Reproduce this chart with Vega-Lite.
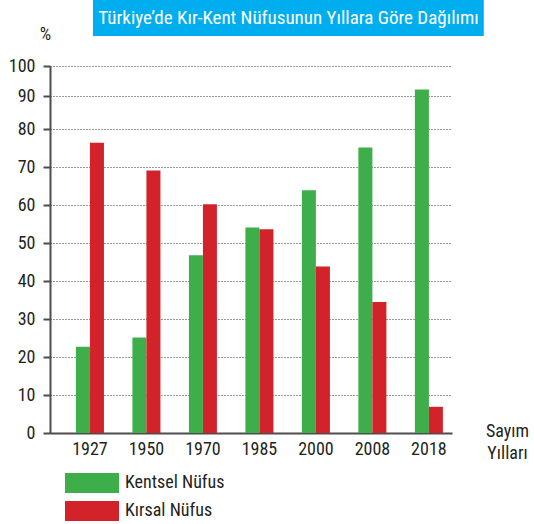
{
  "$schema": "https://vega.github.io/schema/vega-lite/v6.json",
  "width": 402,
  "height": 367,
  "autosize": {"type": "none"},
  "padding": {"left": 50, "top": 66, "right": 82, "bottom": 91},
  "background": "white",
  "config": {
    "view": {"stroke": null},
    "font": "Liberation Sans Narrow, Arial Narrow, Roboto Condensed, Liberation Sans",
    "axis": {
      "labelFontSize": 18,
      "labelColor": "#231F20",
      "titleFontSize": 18,
      "titleFontWeight": "normal",
      "titleColor": "#231F20",
      "domainColor": "#4D4D4D",
      "domainWidth": 2,
      "domainOpacity": 1,
      "tickOpacity": 1,
      "zindex": 2
    },
    "axisX": {
      "labelAngle": 0,
      "ticks": false,
      "labelPadding": 7,
      "grid": false,
      "titleX": 457,
      "titleY": 3,
      "titleAlign": "center",
      "titleBaseline": "alphabetic",
      "titleLineHeight": 22
    },
    "axisY": {
      "titleAngle": 0,
      "titleX": -5,
      "titleY": -32,
      "titleAlign": "center",
      "titleBaseline": "middle",
      "labelPadding": 8,
      "tickSize": 7,
      "tickWidth": 2,
      "tickColor": "#4D4D4D",
      "grid": true,
      "gridColor": "#333333",
      "gridDash": [1, 2],
      "gridWidth": 1,
      "labelOverlap": false
    }
  },
  "datasets": {
    "bars": [
      {"year": "1927", "type": "Kentsel Nüfus", "value": 22.7},
      {"year": "1927", "type": "Kırsal Nüfus", "value": 76.4},
      {"year": "1950", "type": "Kentsel Nüfus", "value": 25.1},
      {"year": "1950", "type": "Kırsal Nüfus", "value": 69.1},
      {"year": "1970", "type": "Kentsel Nüfus", "value": 46.8},
      {"year": "1970", "type": "Kırsal Nüfus", "value": 60.2},
      {"year": "1985", "type": "Kentsel Nüfus", "value": 54.1},
      {"year": "1985", "type": "Kırsal Nüfus", "value": 53.6},
      {"year": "2000", "type": "Kentsel Nüfus", "value": 63.9},
      {"year": "2000", "type": "Kırsal Nüfus", "value": 43.8},
      {"year": "2008", "type": "Kentsel Nüfus", "value": 75.1},
      {"year": "2008", "type": "Kırsal Nüfus", "value": 34.5},
      {"year": "2018", "type": "Kentsel Nüfus", "value": 92.2},
      {"year": "2018", "type": "Kırsal Nüfus", "value": 6.9}
    ],
    "banner": [
      {"label": "Türkiye’de Kır-Kent Nüfusunun Yıllara Göre Dağılımı"}
    ]
  },
  "layer": [
    {
      "data": {"name": "bars"},
      "mark": {"type": "bar"},
      "encoding": {
        "x": {
          "field": "year",
          "type": "nominal",
          "scale": {
            "domain": ["1927", "1950", "1970", "1985", "2000", "2008", "2018"],
            "paddingInner": 0.504,
            "paddingOuter": 0.31,
            "align": 0.74
          },
          "axis": {"title": ["Sayım", "Yılları"]}
        },
        "xOffset": {
          "field": "type",
          "type": "nominal",
          "scale": {"domain": ["Kentsel Nüfus", "Kırsal Nüfus"], "paddingInner": 0, "paddingOuter": 0}
        },
        "y": {
          "field": "value",
          "type": "quantitative",
          "scale": {"domain": [0, 80, 90, 100], "range": [367, 63, 30, 0], "nice": false, "zero": false},
          "axis": {"title": "%", "values": [0, 10, 20, 30, 40, 50, 60, 70, 80, 90, 100]}
        },
        "color": {
          "field": "type",
          "type": "nominal",
          "scale": {"domain": ["Kentsel Nüfus", "Kırsal Nüfus"], "range": ["#3EAE4A", "#D2232A"]},
          "legend": {
            "orient": "none",
            "legendX": 32,
            "legendY": 407,
            "title": null,
            "direction": "vertical",
            "symbolType": "M-2.7,-1H2.7V1H-2.7Z",
            "symbolSize": 400,
            "symbolStrokeWidth": 0,
            "symbolOpacity": 1,
            "labelFontSize": 18,
            "labelColor": "#231F20",
            "labelOffset": 23,
            "rowPadding": 8,
            "padding": 0
          }
        }
      }
    },
    {
      "data": {"name": "banner"},
      "mark": {"type": "rect", "color": "#00AEEF"},
      "encoding": {
        "x": {"datum": "1927", "type": "nominal", "bandPosition": 0.607, "axis": {"title": ["Sayım", "Yılları"]}},
        "x2": {"datum": "2018", "bandPosition": 2.46},
        "y": {"datum": 122, "type": "quantitative", "axis": {"title": "%", "values": [0, 10, 20, 30, 40, 50, 60, 70, 80, 90, 100]}},
        "y2": {"datum": 110}
      }
    },
    {
      "data": {"name": "banner"},
      "mark": {"type": "text", "color": "white", "fontSize": 19, "align": "center", "baseline": "middle"},
      "encoding": {
        "x": {"datum": "1985", "type": "nominal", "bandPosition": 1.54, "axis": {"title": ["Sayım", "Yılları"]}},
        "y": {"datum": 116, "type": "quantitative", "axis": {"title": "%", "values": [0, 10, 20, 30, 40, 50, 60, 70, 80, 90, 100]}},
        "text": {"field": "label", "type": "nominal"}
      }
    }
  ]
}
